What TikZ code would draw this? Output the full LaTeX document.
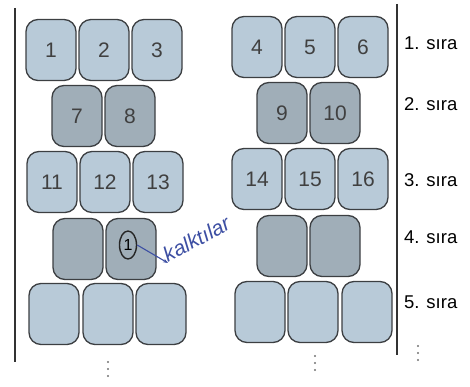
\documentclass[tikz,border=0pt]{standalone}
\usepackage{fontspec}
\setmainfont{Liberation Sans}
\usepackage{tikz}
\usetikzlibrary{
  arrows.meta,
  positioning,
  shapes.geometric,
}
\definecolor{seatlight}{HTML}{B8CAD8}
\definecolor{seatdark}{HTML}{A0AEB8}
\definecolor{seatedge}{HTML}{3C3F42}
\definecolor{penblue}{HTML}{3D4FA3}

\begin{document}
\begin{tikzpicture}[
    x=1pt, y=-1pt,
    seat/.style={rectangle, rounded corners=12pt, draw=seatedge, line width=1.3pt,
                 fill=seatlight, minimum width=50pt, minimum height=61pt,
                 inner sep=0pt, font=\fontsize{21}{21}\selectfont\color{black!75}},
    darkseat/.style={seat, fill=seatdark},
    rowlabel/.style={anchor=west, inner sep=0pt, font=\fontsize{18.5}{18.5}\selectfont},
    wall/.style={draw=black!80, line width=1.2pt},
    vdot/.style={circle, fill=black!55, inner sep=0pt, minimum size=2.4pt},
  ]
  \useasboundingbox (0,0) rectangle (470,387);

  % aisle walls
  \coordinate (lt) at (15,8);
  \coordinate (lb) at (15,362);
  \coordinate (rt) at (397,4);
  \coordinate (rb) at (397,355);
  \draw[wall] (lt) -- (lb);
  \draw[wall] (rt) -- (rb);

  % 1. row
  \node[seat] (s1) at (51,50)  {1};
  \node[seat] (s2) at (104,50) {2};
  \node[seat] (s3) at (157,50) {3};
  \node[seat] (s4) at (257,47) {4};
  \node[seat] (s5) at (310,47) {5};
  \node[seat] (s6) at (363,47) {6};

  % 2. row
  \node[darkseat] (s7)  at (77,116)  {7};
  \node[darkseat] (s8)  at (130,116) {8};
  \node[darkseat] (s9)  at (282,113) {9};
  \node[darkseat] (s10) at (335,113) {10};

  % 3. row
  \node[seat] (s11) at (52,182)  {11};
  \node[seat] (s12) at (105,182) {12};
  \node[seat] (s13) at (158,182) {13};
  \node[seat] (s14) at (257,179) {14};
  \node[seat] (s15) at (310,179) {15};
  \node[seat] (s16) at (363,179) {16};

  % 4. row
  \node[darkseat] (s17) at (78,249)  {};
  \node[darkseat] (s18) at (131,249) {};
  \node[darkseat] (s19) at (282,246) {};
  \node[darkseat] (s20) at (335,246) {};

  % 5. row
  \node[seat] (s21) at (54,314)  {};
  \node[seat] (s22) at (108,314) {};
  \node[seat] (s23) at (161,314) {};
  \node[seat] (s24) at (260,312) {};
  \node[seat] (s25) at (313,312) {};
  \node[seat] (s26) at (367,312) {};

  % row labels
  \node[rowlabel] (r1) at (404,43)  {1. sıra};
  \node[rowlabel] (r2) at (404,104) {2. sıra};
  \node[rowlabel] (r3) at (404,180) {3. sıra};
  \node[rowlabel] (r4) at (404,237) {4. sıra};
  \node[rowlabel] (r5) at (404,302) {5. sıra};

  % handwritten note
  \node[ellipse, draw=black!85, line width=1.4pt, minimum width=17pt, minimum height=28pt,
        inner sep=0pt, font=\fontsize{16}{16}\selectfont] (one) at (128,245) {1};
  \node[anchor=south west, rotate=28, inner sep=0pt, text=penblue,
        font=\fontsize{21}{21}\selectfont\itshape] (note) at (168,263) {kalktılar};
  \draw[penblue, line width=1.1pt, -{Stealth[length=5pt]}] (one.east) -- (note.south west);

  % continuation dots
  \foreach \x/\y/\n in {108/362/a, 315/356/b, 418/346/c}{
    \node[vdot] (\n1) at (\x,\y) {};
    \node[vdot, below=7pt of \n1.center, anchor=center] (\n2) {};
    \node[vdot, below=7pt of \n2.center, anchor=center] (\n3) {};
  }
\end{tikzpicture}
\end{document}
